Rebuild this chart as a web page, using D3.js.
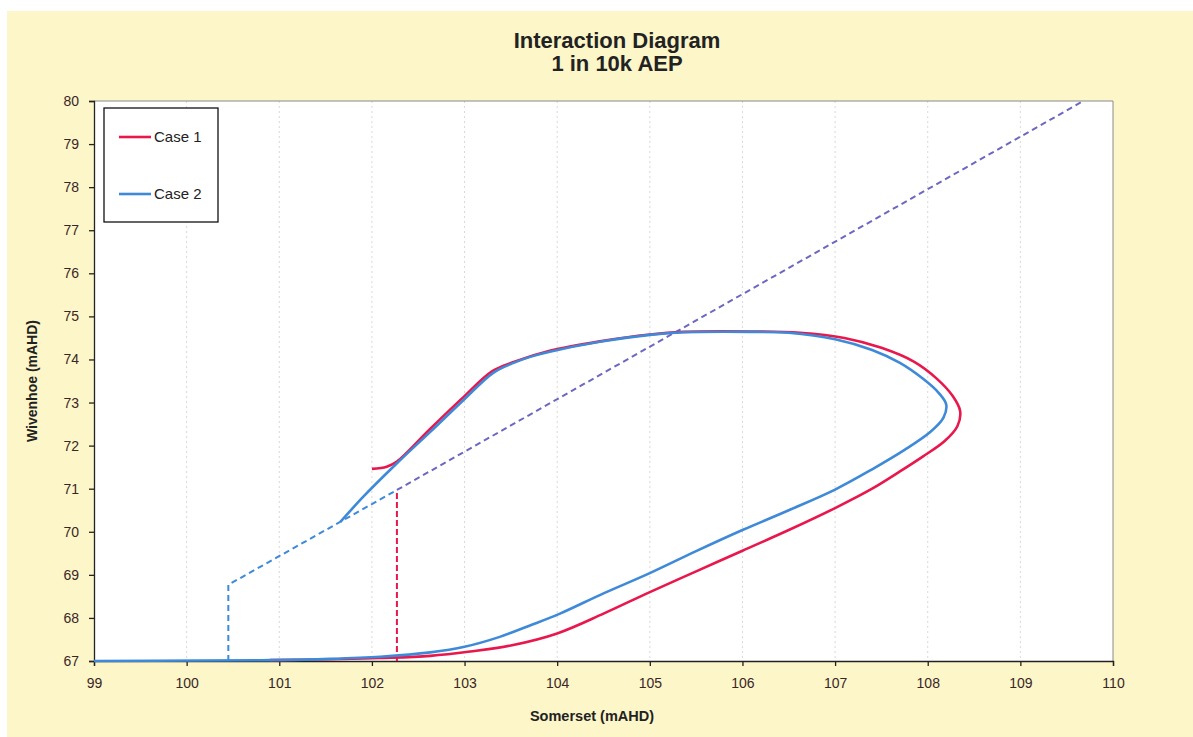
<!DOCTYPE html>
<html>
<head>
<meta charset="utf-8">
<script src="https://cdn.jsdelivr.net/npm/d3@7"></script>
<style>
  html, body { margin: 0; padding: 0; background: #ffffff; }
  svg { display: block; }
  text { font-family: "Liberation Sans", Arial, sans-serif; }
</style>
</head>
<body>
<svg id="chart" width="1193" height="737"></svg>
<script>
// Axis ticks
const xTickValues = [99, 100, 101, 102, 103, 104, 105, 106, 107, 108, 109, 110];
const yTickValues = [67, 68, 69, 70, 71, 72, 73, 74, 75, 76, 77, 78, 79, 80];

// Case 1 trajectory (Somerset, Wivenhoe) in mAHD
const case1 = [
  [102.00, 71.46], [102.16, 71.51], [102.27, 71.63], [102.62, 72.37], [102.97, 73.09],
  [103.30, 73.73], [103.53, 73.94], [103.92, 74.20], [104.46, 74.42], [105.00, 74.58],
  [105.36, 74.64], [106.08, 74.65], [106.62, 74.62], [107.10, 74.50], [107.50, 74.27],
  [107.85, 73.95], [108.10, 73.55], [108.27, 73.15], [108.35, 72.80], [108.32, 72.45],
  [108.18, 72.10], [107.95, 71.75], [107.70, 71.40], [107.40, 71.00], [107.00, 70.55],
  [106.50, 70.04], [106.00, 69.56], [105.50, 69.08], [105.00, 68.60], [104.50, 68.10],
  [104.00, 67.64], [103.50, 67.36], [103.06, 67.22], [102.63, 67.12], [102.09, 67.07],
  [101.55, 67.04], [100.90, 67.02]
];

// Case 2 trajectory
const case2 = [
  [99.00, 67.00], [100.14, 67.01], [100.90, 67.02], [101.55, 67.05], [102.09, 67.10],
  [102.63, 67.20], [103.00, 67.33], [103.38, 67.56], [103.70, 67.82], [104.03, 68.10],
  [104.50, 68.57], [105.00, 69.04], [105.50, 69.55], [106.00, 70.04], [106.50, 70.50],
  [107.00, 70.98], [107.40, 71.45], [107.75, 71.90], [108.03, 72.32], [108.17, 72.65],
  [108.20, 72.95], [108.12, 73.22], [107.95, 73.55], [107.70, 73.92], [107.40, 74.22],
  [107.00, 74.47], [106.50, 74.62], [106.08, 74.64], [105.36, 74.63], [105.00, 74.57],
  [104.46, 74.41], [103.92, 74.18], [103.71, 74.06], [103.53, 73.92], [103.31, 73.69],
  [102.99, 73.06], [102.63, 72.32], [102.27, 71.59], [101.91, 70.82], [101.66, 70.23]
];

// Dashed guide lines
const case1Guide = [[102.27, 67.00], [102.27, 70.97]];
const case2Guide = [[100.45, 67.00], [100.45, 68.77], [102.27, 70.97]];
const sharedGuide = [[102.27, 70.97], [109.68, 80.00]];

const seriesNames = ["Case 1", "Case 2"];
const seriesColors = ["#e8174c", "#3f8ad8"];
const guideColor = "#6c68c2";

const svg = d3.select("#chart");
const W = 1193, H = 737;
const plot = { left: 94, right: 1113, top: 101, bottom: 661 };

// Page backgrounds
svg.append("rect").attr("width", W).attr("height", H).attr("fill", "#ffffff");
svg.append("rect").attr("x", 7).attr("y", 11).attr("width", W - 7).attr("height", H - 11)
  .attr("fill", "#fcf6c9");

const x = d3.scaleLinear().domain([99, 110]).range([plot.left, plot.right]);
const y = d3.scaleLinear().domain([67, 80]).range([plot.bottom, plot.top]);

// Plot area
svg.append("rect")
  .attr("x", plot.left).attr("y", plot.top)
  .attr("width", plot.right - plot.left).attr("height", plot.bottom - plot.top)
  .attr("fill", "#ffffff");

// Faint vertical gridlines
svg.append("g").selectAll("line")
  .data(xTickValues.slice(1, -1))
  .join("line")
  .attr("x1", d => x(d)).attr("x2", d => x(d))
  .attr("y1", plot.top).attr("y2", plot.bottom)
  .attr("stroke", "#d9d9d9").attr("stroke-width", 1)
  .attr("stroke-dasharray", "2,3");

// Plot frame (top/right)
svg.append("path")
  .attr("d", `M${plot.left},${plot.top}H${plot.right}V${plot.bottom}`)
  .attr("fill", "none").attr("stroke", "#8a8a8a").attr("stroke-width", 1);

// Axes
const xAxis = svg.append("g")
  .attr("transform", `translate(0,${plot.bottom})`)
  .call(d3.axisBottom(x).tickValues(xTickValues).tickFormat(d3.format("d")).tickSize(5).tickPadding(12));
const yAxis = svg.append("g")
  .attr("transform", `translate(${plot.left},0)`)
  .call(d3.axisLeft(y).tickValues(yTickValues).tickFormat(d3.format("d")).tickSize(5).tickPadding(10));

[xAxis, yAxis].forEach(g => {
  g.select(".domain").attr("stroke", "#222").attr("stroke-width", 1.3);
  g.selectAll(".tick line").attr("stroke", "#222").attr("stroke-width", 1.3);
  g.selectAll(".tick text")
    .attr("font-family", "'Liberation Sans', Arial, sans-serif")
    .attr("font-size", 14).attr("fill", "#3a2626");
});

const line = d3.line().x(d => x(d[0])).y(d => y(d[1]));
const smooth = d3.line().x(d => x(d[0])).y(d => y(d[1])).curve(d3.curveCatmullRom.alpha(0.5));

// Guides
svg.append("path").datum(case2Guide).attr("d", line)
  .attr("fill", "none").attr("stroke", seriesColors[1]).attr("stroke-width", 2)
  .attr("stroke-dasharray", "6,4");
svg.append("path").datum(sharedGuide).attr("d", line)
  .attr("fill", "none").attr("stroke", guideColor).attr("stroke-width", 2)
  .attr("stroke-dasharray", "6,4");
svg.append("path").datum(case1Guide).attr("d", line)
  .attr("fill", "none").attr("stroke", seriesColors[0]).attr("stroke-width", 2)
  .attr("stroke-dasharray", "6,3");

// Trajectories
svg.append("path").datum(case1).attr("d", smooth)
  .attr("fill", "none").attr("stroke", seriesColors[0]).attr("stroke-width", 2.6)
  .attr("stroke-linejoin", "round");
svg.append("path").datum(case2).attr("d", smooth)
  .attr("fill", "none").attr("stroke", seriesColors[1]).attr("stroke-width", 2.6)
  .attr("stroke-linejoin", "round");

// Title
svg.append("text").attr("x", 617).attr("y", 48).attr("text-anchor", "middle")
  .attr("font-size", 22).attr("font-weight", "bold").attr("fill", "#222")
  .text("Interaction Diagram");
svg.append("text").attr("x", 617).attr("y", 71).attr("text-anchor", "middle")
  .attr("font-size", 22).attr("font-weight", "bold").attr("fill", "#222")
  .text("1 in 10k AEP");

// Axis titles
svg.append("text").attr("x", 592).attr("y", 721)
  .attr("text-anchor", "middle").attr("font-size", 14.5).attr("font-weight", "bold")
  .attr("fill", "#222").text("Somerset (mAHD)");
svg.append("text")
  .attr("transform", `translate(37,${(plot.top + plot.bottom) / 2}) rotate(-90)`)
  .attr("text-anchor", "middle").attr("font-size", 14).attr("font-weight", "bold")
  .attr("fill", "#222").text("Wivenhoe (mAHD)");

// Legend
const legend = svg.append("g").attr("transform", "translate(104,108)");
legend.append("rect").attr("width", 114).attr("height", 114)
  .attr("fill", "#ffffff").attr("stroke", "#111").attr("stroke-width", 1.3);
seriesNames.forEach((name, i) => {
  const ly = 29 + i * 57;
  legend.append("line").attr("x1", 15).attr("x2", 47).attr("y1", ly).attr("y2", ly)
    .attr("stroke", seriesColors[i]).attr("stroke-width", 2.6);
  legend.append("text").attr("x", 50).attr("y", ly + 5).attr("font-size", 15)
    .attr("fill", "#222").text(name);
});
</script>
</body>
</html>
